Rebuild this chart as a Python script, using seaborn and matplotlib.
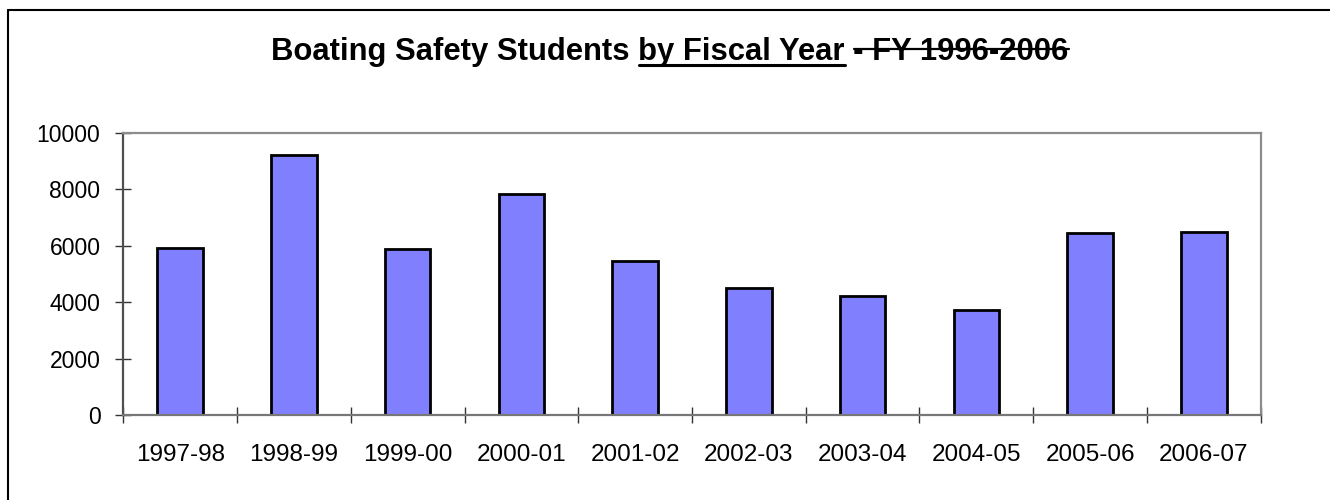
import matplotlib
matplotlib.use("Agg")
import matplotlib.pyplot as plt
from matplotlib.lines import Line2D
import seaborn as sns
import pandas as pd

categories = ["1997-98", "1998-99", "1999-00", "2000-01", "2001-02",
              "2002-03", "2003-04", "2004-05", "2005-06", "2006-07"]
students = [5900, 9210, 5890, 7830, 5470, 4510, 4215, 3720, 6460, 6495]
y_ticks = [0, 2000, 4000, 6000, 8000, 10000]

title_plain = "Boating Safety Students "
title_under = "by Fiscal Year"
title_strike = "- FY 1996-2006"

sns.set_style("white")
plt.rcParams["font.family"] = ["Liberation Sans", "DejaVu Sans"]

W, H, DPI = 1330, 500, 100
fig = plt.figure(figsize=(W / DPI, H / DPI), dpi=DPI)
ax = fig.add_axes([123.3 / W, (H - 415) / H, (1260.7 - 123.3) / W, (415 - 132.7) / H])

df = pd.DataFrame({"year": categories, "students": students})
sns.barplot(data=df, x="year", y="students", color="#8080FF", saturation=1,
            edgecolor="black", linewidth=2, width=0.4, ax=ax)

ax.set_xlim(-0.5, len(categories) - 0.5)
ax.set_ylim(0, 10000)
ax.set_yticks(y_ticks)
ax.set_yticklabels([str(v) for v in y_ticks])
ax.set_xlabel("")
ax.set_ylabel("")

# major ticks at category boundaries, labels at centres
ax.set_xticks([i - 0.5 for i in range(len(categories) + 1)])
ax.set_xticklabels([])
ax.set_xticks(list(range(len(categories))), minor=True)
ax.set_xticklabels(categories, minor=True)
ax.tick_params(axis="x", which="major", direction="inout", length=12, width=1,
               color="#333333", bottom=True)
ax.tick_params(axis="x", which="minor", length=0, pad=21, labelsize=17.5,
               labelcolor="black")
ax.tick_params(axis="y", direction="inout", length=11, width=1, color="#333333",
               pad=11, labelsize=16.5, left=True, labelcolor="black")

for side, col in [("left", "#505050"), ("bottom", "#777777"),
                  ("top", "#8c8c8c"), ("right", "#8c8c8c")]:
    ax.spines[side].set_visible(True)
    ax.spines[side].set_color(col)
    ax.spines[side].set_linewidth(1.6)

# title with underline and strikethrough segments
full = title_plain + title_under + " " + title_strike
tkw = dict(fontsize=22.3, fontweight="bold", color="black")
fig.canvas.draw()
r = fig.canvas.get_renderer()

def width(s):
    t = fig.text(0, 0, s, **tkw)
    w = t.get_window_extent(r).width
    t.remove()
    return w

w_full = width(full)
w_pre_by = width(title_plain + "by") - width("by")
w_under_end = width(title_plain + title_under)
w_strike = width(title_strike)

cx = 670
baseline_y = 60
x0 = cx - w_full / 2
fig.text(x0 / W, 1 - baseline_y / H, full, ha="left", va="baseline", **tkw)

u_y = 1 - 64.5 / H
fig.add_artist(Line2D([(x0 + w_pre_by) / W, (x0 + w_under_end) / W], [u_y, u_y],
                      color="black", linewidth=2.2, transform=fig.transFigure))
s_y = 1 - 48.5 / H
fig.add_artist(Line2D([(x0 + w_full - w_strike) / W, (x0 + w_full) / W], [s_y, s_y],
                      color="black", linewidth=1.6, transform=fig.transFigure))

# outer chart border (left and top visible)
fig.add_artist(Line2D([8 / W, 8 / W], [0, 1 - 10 / H], color="black",
                      linewidth=1.5, transform=fig.transFigure))
fig.add_artist(Line2D([8 / W, 1], [1 - 10 / H, 1 - 10 / H], color="black",
                      linewidth=1.5, transform=fig.transFigure))

fig.savefig("out.png", dpi=DPI)
